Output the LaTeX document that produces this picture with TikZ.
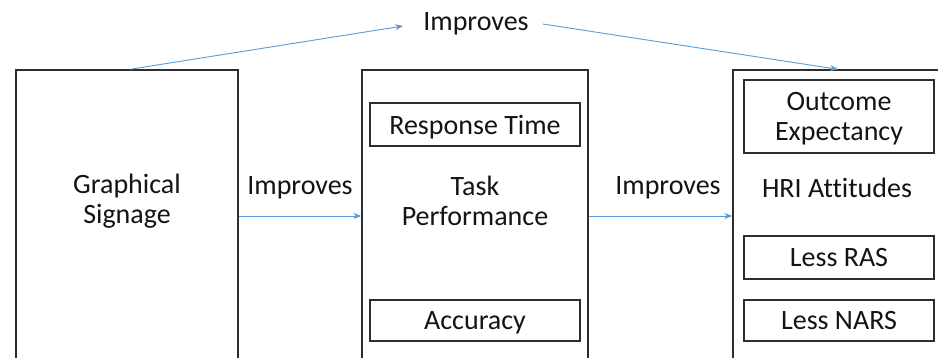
\documentclass[tikz,border=0pt]{standalone}
\usepackage{fontspec}
\setmainfont{Carlito}[Ligatures={NoCommon}]
\usetikzlibrary{arrows.meta}
\definecolor{arrblue}{HTML}{5B9BD5}
\definecolor{txt}{HTML}{141414}
\definecolor{edge}{HTML}{2E2E2E}
\tikzset{
  every node/.style={font=\fontsize{28}{30}\selectfont, text=txt, align=center, inner sep=0pt},
  outerbox/.style={draw=edge, line width=1.4pt, minimum height=310pt},
  innerbox/.style={draw=edge, line width=1.4pt, text depth=0pt},
  arr/.style={draw=arrblue, line width=0.9pt, -{Stealth[length=8pt,width=6pt]}},
}
\begin{document}
\begin{tikzpicture}[x=1pt,y=-1pt]
\useasboundingbox (0,0) rectangle (938,358);
\clip (0,0) rectangle (938,358);
\fill[white] (0,0) rectangle (938,358);
% outer boxes
\node[outerbox, minimum width=222pt] (g) at (127,225) {};
\node[outerbox, minimum width=226pt] (t) at (475,225) {};
\node[outerbox, minimum width=230pt] (h) at (848,225) {};
% outer texts
\node (gl) at (127,201) {Graphical\\Signage};
\node (tl) at (475,201) {Task\\Performance};
\node (hl) at (837,188) {HRI Attitudes};
% inner boxes
\node[innerbox, minimum width=210pt, minimum height=43pt] (rt) at (475,124.5) {Response Time};
\node[innerbox, minimum width=210pt, minimum height=41pt] (ac) at (475,320.5) {Accuracy};
\node[innerbox, minimum width=190pt, minimum height=73pt] (oe) at (839,116.5) {Outcome\\Expectancy};
\node[innerbox, minimum width=190pt, minimum height=43pt] (ras) at (839,257.5) {Less RAS};
\node[innerbox, minimum width=190pt, minimum height=41pt] (nars) at (839,320.5) {Less NARS};
% labels
\node (i1) at (300,188) {Improves};
\node (i2) at (668,188) {Improves};
\node (i3) at (476,24) {Improves};
% arrows
\coordinate (a1s) at (239,216);
\draw[arr] (g.east |- a1s) -- (t.west |- a1s);
\draw[arr] (t.east |- a1s) -- (h.west |- a1s);
\draw[arr] ([xshift=3pt]g.north) -- ([xshift=-20pt,yshift=-2pt]i3.west);
\draw[arr] ([xshift=14pt,yshift=0pt]i3.east) -- ([xshift=-10pt]h.north);
\end{tikzpicture}
\end{document}
